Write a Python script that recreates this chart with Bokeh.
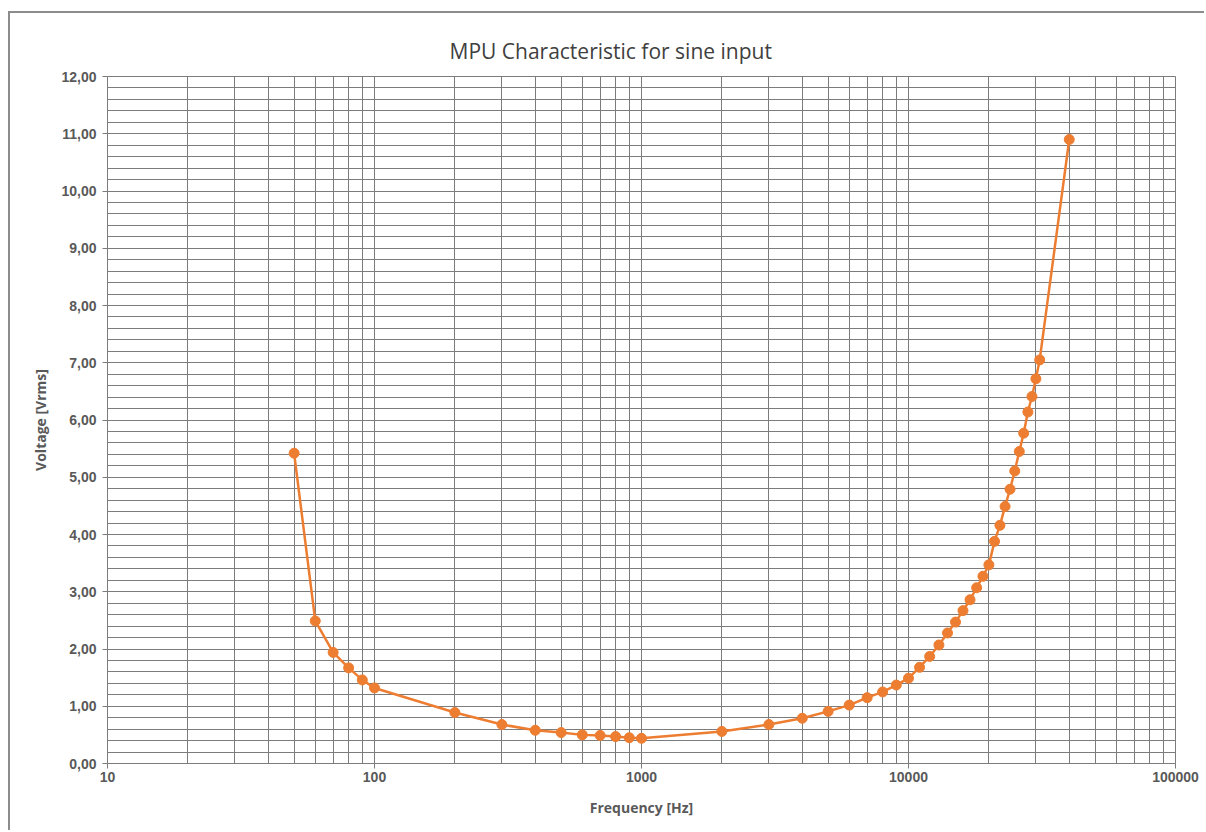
from bokeh.plotting import figure
from bokeh.models import (Range1d, LogTicker, SingleIntervalTicker, CustomJSTickFormatter,
                          ColumnDataSource, Title)
from bokeh.embed import file_html
from bokeh.resources import INLINE

# ---- data ----
freq_hz = [50, 60, 70, 80, 90, 100, 200, 300, 400, 500, 600, 700, 800, 900, 1000,
           2000, 3000, 4000, 5000, 6000, 7000, 8000, 9000, 10000,
           11000, 12000, 13000, 14000, 15000, 16000, 17000, 18000, 19000, 20000,
           21000, 22000, 23000, 24000, 25000, 26000, 27000, 28000, 29000, 30000, 31000,
           40000]
voltage_vrms = [5.42, 2.49, 1.94, 1.67, 1.46, 1.32, 0.89, 0.68, 0.58, 0.54, 0.50, 0.49, 0.47, 0.45, 0.44,
                0.56, 0.68, 0.79, 0.91, 1.02, 1.15, 1.25, 1.37, 1.49,
                1.68, 1.87, 2.07, 2.28, 2.47, 2.67, 2.86, 3.07, 3.27, 3.47,
                3.88, 4.16, 4.49, 4.79, 5.11, 5.45, 5.77, 6.14, 6.41, 6.72, 7.05,
                10.90]

title_text = "MPU Characteristic for sine input"
x_title = "Frequency [Hz]"
y_title = "Voltage [Vrms]"

ORANGE = "#ED7D31"
GRID = "#7c7c7c"
TXT = "#595959"

p = figure(width=1196, height=819, x_axis_type="log",
           x_range=Range1d(10, 100000), y_range=Range1d(0, 12),
           output_backend="svg", toolbar_location=None,
           min_border_left=97, min_border_right=31, min_border_top=63, min_border_bottom=69)
p.styles = {"border-left": "2px solid #8c8c8c", "border-top": "2px solid #8c8c8c",
            "margin-left": "8px", "margin-top": "11px"}
p.title = Title(text=title_text, align="left", text_font="Open Sans",
                text_font_size="21px", text_font_style="normal", text_color="#404040",
                offset=342, standoff=24)

p.background_fill_color = "white"
p.border_fill_color = "white"
p.outline_line_color = GRID
p.outline_line_width = 1

# axes
p.xaxis.ticker = LogTicker(num_minor_ticks=10, mantissas=[1])
p.xaxis.formatter = CustomJSTickFormatter(code="return Math.round(tick).toString();")
p.yaxis.ticker = SingleIntervalTicker(interval=1, num_minor_ticks=5)
p.yaxis.formatter = CustomJSTickFormatter(code="return tick.toFixed(2).replace('.', ',');")

for ax in (p.xaxis[0], p.yaxis[0]):
    ax.axis_line_color = GRID
    ax.major_tick_line_color = GRID
    ax.major_tick_out = 5
    ax.major_tick_in = 0
    ax.minor_tick_line_color = None
    ax.major_label_text_font = "Liberation Sans"
    ax.major_label_text_font_style = "bold"
    ax.major_label_text_font_size = "14px"
    ax.major_label_text_color = TXT
    ax.axis_label_text_font = "Open Sans"
    ax.axis_label_text_font_style = "bold"
    ax.axis_label_text_font_size = "14px"
    ax.axis_label_text_color = TXT

p.xaxis.axis_label = x_title
p.yaxis.axis_label = y_title
p.xaxis.major_label_standoff = 3
p.xaxis.axis_label_standoff = 13
p.yaxis.major_label_standoff = 6
p.yaxis.axis_label_standoff = 8

# grid
for g in (p.xgrid[0], p.ygrid[0]):
    g.grid_line_color = GRID
    g.grid_line_width = 1
    g.minor_grid_line_color = GRID
    g.minor_grid_line_width = 1

src = ColumnDataSource(dict(f=freq_hz, v=voltage_vrms))
p.line("f", "v", source=src, line_color=ORANGE, line_width=2.5)
p.scatter("f", "v", source=src, size=10, fill_color=ORANGE, line_color=ORANGE)

open("out.html", "w").write(file_html(p, INLINE))
